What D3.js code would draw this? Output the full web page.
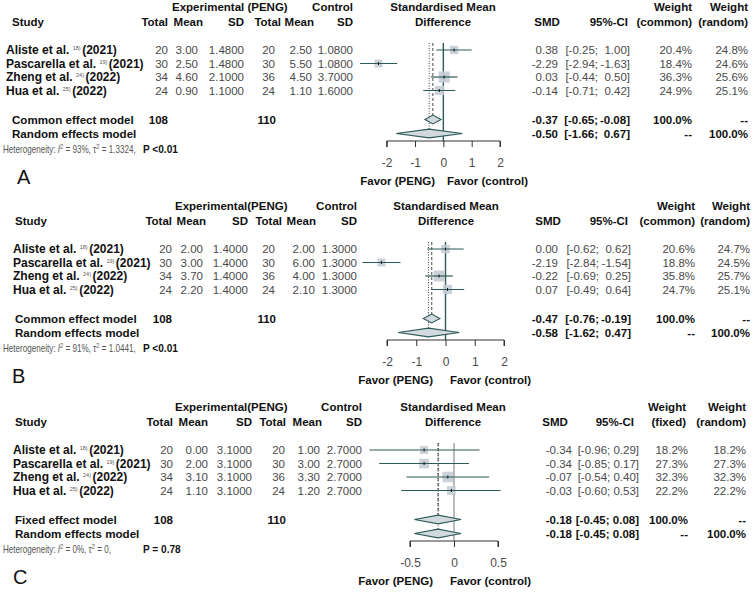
<!DOCTYPE html>
<html><head><meta charset="utf-8">
<script src="https://cdn.jsdelivr.net/npm/d3@7"></script>
<style>body{margin:0;background:#fff}text{font-family:"Liberation Sans",Arial,sans-serif}</style>
</head><body><svg id="c" width="756" height="594"></svg>
<script>
// ---------- shared data ----------
const studies = ["Aliste et al.", "Pascarella et al.", "Zheng et al.", "Hua et al."];
const refs = ["18)", "19)", "24)", "25)"];
const years = ["(2021)", "(2021)", "(2022)", "(2022)"];
const expTotal = [20, 30, 34, 24];
const ctrlTotal = [20, 30, 36, 24];

// ---------- panel A ----------
const aExpMean = ["3.00", "2.50", "4.60", "0.90"];
const aExpSD = ["1.4800", "1.4800", "2.1000", "1.1000"];
const aCtrlMean = ["2.50", "5.50", "4.50", "1.10"];
const aCtrlSD = ["1.0800", "1.0800", "3.7000", "1.6000"];
const aSMD = [0.38, -2.29, 0.03, -0.14];
const aLo = [-0.25, -2.94, -0.44, -0.71];
const aHi = [1.00, -1.63, 0.50, 0.42];
const aWc = [20.4, 18.4, 36.3, 24.9];
const aWr = [24.8, 24.6, 25.6, 25.1];
const aPooled = [[-0.37, -0.65, -0.08], [-0.50, -1.66, 0.67]];
const aHet = ["93%", "1.3324", "P <0.01"];
const aTicks = [-2, -1, 0, 1, 2];

// ---------- panel B ----------
const bExpMean = ["2.00", "3.00", "3.70", "2.20"];
const bExpSD = ["1.4000", "1.4000", "1.4000", "1.4000"];
const bCtrlMean = ["2.00", "6.00", "4.00", "2.10"];
const bCtrlSD = ["1.3000", "1.3000", "1.3000", "1.3000"];
const bSMD = [0.00, -2.19, -0.22, 0.07];
const bLo = [-0.62, -2.84, -0.69, -0.49];
const bHi = [0.62, -1.54, 0.25, 0.64];
const bWc = [20.6, 18.8, 35.8, 24.7];
const bWr = [24.7, 24.5, 25.7, 25.1];
const bPooled = [[-0.47, -0.76, -0.19], [-0.58, -1.62, 0.47]];
const bHet = ["91%", "1.0441", "P <0.01"];
const bTicks = [-2, -1, 0, 1, 2];

// ---------- panel C ----------
const cExpMean = ["0.00", "2.00", "3.10", "1.10"];
const cExpSD = ["3.1000", "3.1000", "3.1000", "3.1000"];
const cCtrlMean = ["1.00", "3.00", "3.30", "1.20"];
const cCtrlSD = ["2.7000", "2.7000", "2.7000", "2.7000"];
const cSMD = [-0.34, -0.34, -0.07, -0.03];
const cLo = [-0.96, -0.85, -0.54, -0.60];
const cHi = [0.29, 0.17, 0.40, 0.53];
const cWc = [18.2, 27.3, 32.3, 22.2];
const cWr = [18.2, 27.3, 32.3, 22.2];
const cPooled = [[-0.18, -0.45, 0.08], [-0.18, -0.45, 0.08]];
const cHet = ["0%", "0", "P = 0.78"];
const cTicks = [-0.5, 0, 0.5];

const svg = d3.select("#c");
const LINE = "#2d5a58", SQ = "#c4ccd4", DIA = "#d2d9df", GREY = "#4a4a4a";
const FS = 11.5;

const panels = [
  {label:"A", dy:0, expHdr:"Experimental (PENG)", wHdr:"(common)", model:"Common effect model", ciSplit:true,
   expMean:aExpMean, expSD:aExpSD, ctrlMean:aCtrlMean, ctrlSD:aCtrlSD, smd:aSMD, lo:aLo, hi:aHi, wc:aWc, wr:aWr,
   pooled:aPooled, het:aHet, ticks:aTicks, domain:[-2,2], range:[386.7,500], zeroStyle:"strong",
   col:{study:6, studyHdr:12, labX:17, expTotal:168, expMean:198, expSD:244, ctrlTotal:275, ctrlMean:312, ctrlSD:353,
        hExpMean:203, hCtrlTotal:281, hCtrlMean:314, expHdrX:172, smdR:558, ciMid:598, ciR:630, ciHdrR:628, smdHdrC:547,
        wcR:692, wcHdrR:692, wrR:748, titleC:443, favL:435, favR:447}},
  {label:"B", dy:199, expHdr:"Experimental(PENG)", wHdr:"(common)", model:"Common effect model", ciSplit:true,
   expMean:bExpMean, expSD:bExpSD, ctrlMean:bCtrlMean, ctrlSD:bCtrlSD, smd:bSMD, lo:bLo, hi:bHi, wc:bWc, wr:bWr,
   pooled:bPooled, het:bHet, ticks:bTicks, domain:[-2,2], range:[387,504], zeroStyle:"strong",
   col:{study:13, studyHdr:15, labX:12, expTotal:172, expMean:203, expSD:248, ctrlTotal:275, ctrlMean:315, ctrlSD:357,
        hExpMean:206, hCtrlTotal:282, hCtrlMean:316, expHdrX:175, smdR:558, ciMid:599, ciR:631, ciHdrR:628, smdHdrC:548,
        wcR:695, wcHdrR:695, wrR:750, titleC:446, favL:433, favR:450}},
  {label:"C", dy:400, expHdr:"Experimental(PENG)", wHdr:"(fixed)", model:"Fixed effect model", ciSplit:false,
   expMean:cExpMean, expSD:cExpSD, ctrlMean:cCtrlMean, ctrlSD:cCtrlSD, smd:cSMD, lo:cLo, hi:cHi, wc:cWc, wr:cWr,
   pooled:cPooled, het:cHet, ticks:cTicks, domain:[-0.5,0.5], range:[410,498], zeroStyle:"thin",
   col:{study:13, studyHdr:15, labX:13, expTotal:173, expMean:208, expSD:252, ctrlTotal:285, ctrlMean:320, ctrlSD:362,
        hExpMean:208, hCtrlTotal:286, hCtrlMean:322, expHdrX:175, smdR:572, ciMid:0, ciR:639, ciHdrR:634, smdHdrC:555,
        wcR:688, wcHdrR:686, wrR:746, titleC:453, favL:433, favR:450}}
];

const rowY = [50, 63.5, 77, 90.5];
const poolY = [119.5, 133.5];
const axisY = 141;
const fmt2 = d => (d < 0 ? "-" : "") + Math.abs(d).toFixed(2);

function txt(g, x, y, s, opt={}) {
  return g.append("text").attr("x", x).attr("y", y)
    .attr("text-anchor", opt.anchor || "start")
    .attr("font-size", opt.size || FS)
    .attr("font-weight", opt.bold ? "bold" : "normal")
    .attr("fill", opt.fill || (opt.bold ? "#111" : GREY))
    .text(s);
}

panels.forEach(p => {
  const g = svg.append("g").attr("transform", `translate(0,${p.dy})`);
  const c = p.col;
  const x = d3.scaleLinear().domain(p.domain).range(p.range);

  // headers
  txt(g, c.expHdrX, 11, p.expHdr, {bold:true});
  txt(g, c.ctrlSD, 11, "Control", {bold:true, anchor:"end"});
  txt(g, c.titleC, 11, "Standardised Mean", {bold:true, anchor:"middle"});
  txt(g, c.wcHdrR, 11, "Weight", {bold:true, anchor:"end"});
  txt(g, c.wrR, 11, "Weight", {bold:true, anchor:"end"});
  txt(g, c.studyHdr, 26, "Study", {bold:true});
  txt(g, c.expTotal, 26, "Total", {bold:true, anchor:"end"});
  txt(g, c.hExpMean, 26, "Mean", {bold:true, anchor:"end"});
  txt(g, c.expSD, 26, "SD", {bold:true, anchor:"end"});
  txt(g, c.hCtrlTotal, 26, "Total", {bold:true, anchor:"end"});
  txt(g, c.hCtrlMean, 26, "Mean", {bold:true, anchor:"end"});
  txt(g, c.ctrlSD, 26, "SD", {bold:true, anchor:"end"});
  txt(g, c.titleC, 26, "Difference", {bold:true, anchor:"middle"});
  txt(g, c.smdHdrC, 26, "SMD", {bold:true, anchor:"middle"});
  txt(g, c.ciHdrR, 26, "95%-CI", {bold:true, anchor:"end"});
  txt(g, c.wcHdrR, 26, p.wHdr, {bold:true, anchor:"end"});
  txt(g, c.wrR, 26, "(random)", {bold:true, anchor:"end"});

  const ciText = (y, lo, hi, bold) => {
    if (p.ciSplit) {
      txt(g, c.ciMid, y, "[" + fmt2(lo) + ";", {anchor:"end", bold});
      txt(g, c.ciR, y, fmt2(hi) + "]", {anchor:"end", bold});
    } else {
      txt(g, c.ciR, y, "[" + fmt2(lo) + "; " + fmt2(hi) + "]", {anchor:"end", bold});
    }
  };

  // study rows (text)
  studies.forEach((s, i) => {
    const y = rowY[i] + 4;
    const t = g.append("text").attr("x", c.study).attr("y", y).attr("font-size", 12)
      .attr("font-weight", "bold").attr("fill", "#111");
    t.append("tspan").text(s + " ");
    t.append("tspan").attr("font-size", 5.5).attr("font-weight", "normal").attr("fill", "#555").attr("dy", -4).text(refs[i]);
    t.append("tspan").attr("dy", 4).attr("dx", 1.5).text(years[i]);
    txt(g, c.expTotal, y, expTotal[i], {anchor:"end"});
    txt(g, c.expMean, y, p.expMean[i], {anchor:"end"});
    txt(g, c.expSD, y, p.expSD[i], {anchor:"end"});
    txt(g, c.ctrlTotal, y, ctrlTotal[i], {anchor:"end"});
    txt(g, c.ctrlMean, y, p.ctrlMean[i], {anchor:"end"});
    txt(g, c.ctrlSD, y, p.ctrlSD[i], {anchor:"end"});
    txt(g, c.smdR, y, fmt2(p.smd[i]), {anchor:"end"});
    ciText(y, p.lo[i], p.hi[i], false);
    txt(g, c.wcR, y, p.wc[i].toFixed(1) + "%", {anchor:"end"});
    txt(g, c.wrR, y, p.wr[i].toFixed(1) + "%", {anchor:"end"});
  });

  // pooled rows text
  const pnames = [p.model, "Random effects model"];
  p.pooled.forEach((d, k) => {
    const y = poolY[k] + 4;
    txt(g, c.studyHdr, y, pnames[k], {bold:true, size:11.6});
    if (k === 0) {
      txt(g, c.expTotal, y, d3.sum(expTotal), {bold:true, anchor:"end"});
      txt(g, c.ctrlTotal + 1, y, d3.sum(ctrlTotal), {bold:true, anchor:"end"});
    }
    txt(g, c.smdR, y, fmt2(d[0]), {bold:true, anchor:"end"});
    ciText(y, d[1], d[2], true);
    txt(g, c.wcR, y, k === 0 ? "100.0%" : "--", {bold:true, anchor:"end"});
    txt(g, c.wrR, y, k === 0 ? "--" : "100.0%", {bold:true, anchor:"end"});
  });

  // heterogeneity (condensed text as in the original)
  const h = g.append("text").attr("transform", "translate(3,152.5) scale(0.81,1)")
    .attr("font-size", 10).attr("fill", "#555");
  h.append("tspan").text("Heterogeneity: ");
  h.append("tspan").attr("font-style", "italic").text("I");
  h.append("tspan").attr("font-size", 7).attr("dy", -4).text("2");
  h.append("tspan").attr("dy", 4).text(" = " + p.het[0] + ", \u03c4");
  h.append("tspan").attr("font-size", 7).attr("dy", -4).text("2");
  h.append("tspan").attr("dy", 4).text(" = " + p.het[1] + ",");
  g.append("text").attr("transform", "translate(143,153) scale(0.92,1)")
    .attr("font-size", 11).attr("font-weight", "bold").attr("fill", "#111").text(p.het[2]);

  // panel label
  txt(g, c.labX, 184, p.label, {size:20, fill:"#111"});

  // reference lines
  const top = 43;
  if (p.zeroStyle === "strong") {
    g.append("line").attr("x1", x(0)).attr("x2", x(0)).attr("y1", top).attr("y2", axisY)
      .attr("stroke", LINE).attr("stroke-width", 1.4);
  } else {
    g.append("line").attr("x1", x(0)).attr("x2", x(0)).attr("y1", top).attr("y2", axisY)
      .attr("stroke", "#666").attr("stroke-width", 0.9);
  }
  g.append("line").attr("x1", x(p.pooled[0][0])).attr("x2", x(p.pooled[0][0]))
    .attr("y1", top).attr("y2", poolY[0]).attr("stroke", "#333").attr("stroke-width", 0.9).attr("stroke-dasharray", "3,2");
  g.append("line").attr("x1", x(p.pooled[1][0])).attr("x2", x(p.pooled[1][0]))
    .attr("y1", top).attr("y2", poolY[1]).attr("stroke", "#333").attr("stroke-width", 0.9).attr("stroke-dasharray", "1,1.5");

  // squares + CI lines
  studies.forEach((s, i) => {
    const sz = 1.85 * Math.sqrt(p.wc[i]);
    const cx = x(p.smd[i]), cy = rowY[i];
    g.append("rect").attr("x", cx - sz/2).attr("y", cy - sz/2).attr("width", sz).attr("height", sz)
      .attr("fill", SQ).attr("opacity", 0.9);
    g.append("line").attr("x1", x(p.lo[i])).attr("x2", x(p.hi[i])).attr("y1", cy).attr("y2", cy)
      .attr("stroke", LINE).attr("stroke-width", 1.2);
    g.append("line").attr("x1", cx).attr("x2", cx).attr("y1", cy - 1.5).attr("y2", cy + 1.5)
      .attr("stroke", "#111").attr("stroke-width", 1);
  });

  // diamonds
  p.pooled.forEach((d, k) => {
    const y = poolY[k], hh = 4.4;
    const pts = [[x(d[1]), y], [x(d[0]), y - hh], [x(d[2]), y], [x(d[0]), y + hh]];
    g.append("polygon").attr("points", pts.map(q => q.join(",")).join(" "))
      .attr("fill", DIA).attr("stroke", LINE).attr("stroke-width", 1.1);
  });

  // axis
  const ax = d3.axisBottom(x).tickValues(p.ticks).tickSize(6).tickPadding(11)
    .tickFormat(d => d === 0 ? "0" : String(d));
  const ag = g.append("g").attr("transform", `translate(0,${axisY})`).call(ax);
  ag.select(".domain").attr("stroke", "#333").attr("d", `M${p.range[0]},6V0H${p.range[1]}V6`);
  ag.selectAll(".tick line").attr("stroke", "#333");
  ag.selectAll(".tick text").attr("font-size", 12).attr("fill", GREY)
    .attr("font-family", "Liberation Sans, Arial, sans-serif");

  txt(g, c.favL, 185, "Favor (PENG)", {bold:true, anchor:"end"});
  txt(g, c.favR, 185, "Favor (control)", {bold:true});
});
</script></body></html>
